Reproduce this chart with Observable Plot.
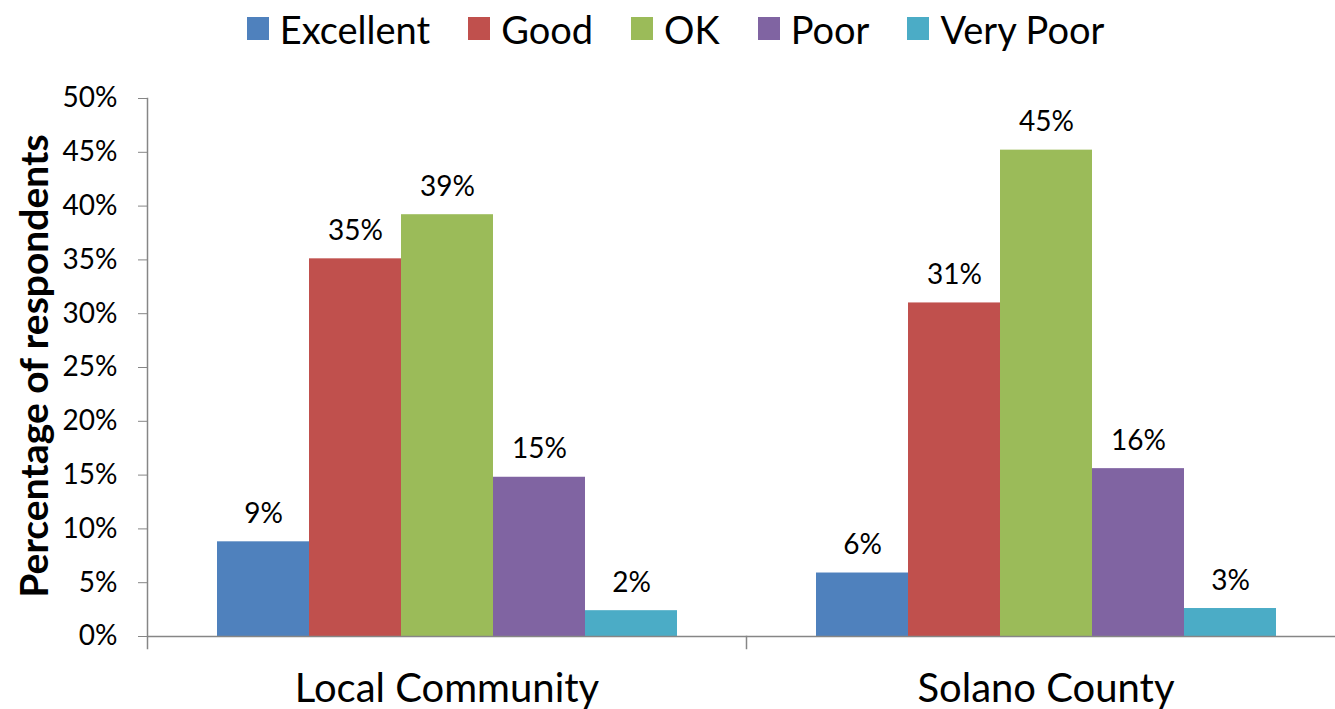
<!DOCTYPE html>
<html>
<head>
<meta charset="utf-8">
<script src="https://cdn.jsdelivr.net/npm/d3@7"></script>
<script src="https://cdn.jsdelivr.net/npm/@observablehq/plot@0.6"></script>
<style>
  html, body { margin: 0; padding: 0; background: #fff; overflow: hidden; }
  body { width: 1335px; height: 709px; position: relative; font-family: Lato, "Open Sans", sans-serif; }
  #legend { height: 60px; display: flex; justify-content: center; align-items: center; gap: 38px; font-size: 38px; color: #000; padding-left: 16px; padding-bottom: 3px; box-sizing: border-box; }
  .item { display: flex; align-items: center; gap: 11px; }
  .sw { width: 22px; height: 23px; display: inline-block; }
  #ylabel { position: absolute; left: 33px; top: 366px; transform: translate(-50%, -50%) rotate(-90deg); font-weight: bold; font-size: 39px; white-space: nowrap; color: #000; }
</style>
</head>
<body>
<div id="legend"></div>
<div id="chart"></div>
<div id="ylabel"></div>
<script>
const groups = ["Local Community", "Solano County"];
const ratings = ["Excellent", "Good", "OK", "Poor", "Very Poor"];
const colors = ["#4F81BD", "#C0504D", "#9BBB59", "#8064A2", "#4BACC6"];
const localValues = [8.8, 35.1, 39.2, 14.8, 2.4];
const solanoValues = [5.9, 31.0, 45.2, 15.6, 2.6];
const yTicks = [0, 5, 10, 15, 20, 25, 30, 35, 40, 45, 50];
const yLabel = "Percentage of respondents";

const data = [];
ratings.forEach((r, i) => data.push({group: groups[0], rating: r, value: localValues[i]}));
ratings.forEach((r, i) => data.push({group: groups[1], rating: r, value: solanoValues[i]}));

// legend
const legend = document.getElementById("legend");
ratings.forEach((r, i) => {
  const it = document.createElement("div");
  it.className = "item";
  const sw = document.createElement("span");
  sw.className = "sw";
  sw.style.background = colors[i];
  const t = document.createElement("span");
  t.textContent = r;
  it.appendChild(sw); it.appendChild(t);
  legend.appendChild(it);
});
document.getElementById("ylabel").textContent = yLabel;

const H = 649, MT = 38, MB = 73;
const frameH = H - MT - MB;
const axisColor = "#868686";

const chart = Plot.plot({
  width: 1335,
  height: H,
  marginTop: MT,
  marginBottom: MB,
  marginLeft: 147,
  marginRight: -10,
  style: {fontFamily: "Lato, 'Open Sans', sans-serif", color: "#000", background: "#fff", overflow: "visible"},
  fx: {domain: groups, padding: 0, axis: null},
  x: {domain: ratings, paddingInner: 0, paddingOuter: 0.736, axis: null},
  y: {domain: [0, 50], axis: null},
  color: {domain: ratings, range: colors},
  marks: [
    Plot.barY(data, {fx: "group", x: "rating", y: "value", fill: "rating"}),
    Plot.text(data, {fx: "group", x: "rating", y: "value", text: d => Math.round(d.value) + "%", lineAnchor: "bottom", dy: -19, fontSize: 28, fill: "#000"}),
    Plot.ruleY([0], {stroke: axisColor, strokeWidth: 1.5}),
    Plot.frame({anchor: "left", fx: groups[0], stroke: axisColor, strokeWidth: 1.5, insetBottom: -12}),
    Plot.frame({anchor: "left", fx: groups[1], stroke: axisColor, strokeWidth: 1.5, insetTop: frameH, insetBottom: -12}),
    Plot.axisY({ticks: yTicks, tickSize: 9, tickPadding: 21, fontSize: 28, tickFormat: d => d + "%", label: null, stroke: axisColor, fill: "#000"}),
    Plot.axisFx({anchor: "bottom", tickSize: 0, tickPadding: 37, fontSize: 40, label: null, fill: "#000"})
  ]
});
document.getElementById("chart").appendChild(chart);
</script>
</body>
</html>
